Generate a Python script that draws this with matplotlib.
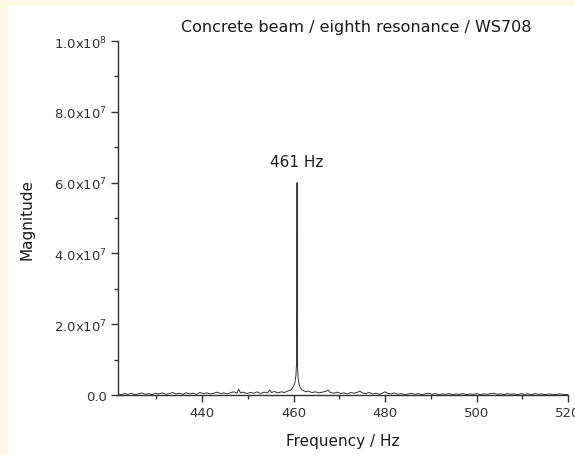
import numpy as np
import matplotlib.pyplot as plt
from matplotlib.ticker import FuncFormatter, MultipleLocator
from matplotlib.patches import Rectangle

# ---- data ----
freq = [421.6, 422.3, 423.0, 423.8, 424.5, 425.3, 426.0, 426.8, 427.5, 428.3,
        429.0, 429.8, 430.5, 431.3, 432.0, 432.8, 433.5, 434.3, 435.0, 435.8,
        436.5, 437.3, 438.0, 438.8, 439.5, 440.3, 441.0, 441.8, 442.5, 443.3,
        444.0, 444.8, 445.5, 446.3, 447.0, 447.6, 448.0, 448.4, 449.0, 449.8,
        450.5, 451.3, 452.0, 452.8, 453.5, 454.3, 454.8, 455.2, 455.8, 456.5,
        457.3, 458.0, 458.7, 459.2, 459.6, 460.0, 460.3, 460.5, 460.65, 460.72,
        460.75, 460.78, 460.85, 461.0, 461.2, 461.5, 461.8, 462.2, 462.7, 463.2,
        464.0, 464.8, 465.5, 466.3, 467.0, 467.5, 468.0, 468.8, 469.5, 470.3,
        471.0, 471.8, 472.5, 473.3, 474.0, 474.5, 475.0, 475.8, 476.5, 477.3,
        478.0, 478.8, 479.5, 480.0, 480.5, 481.3, 482.0, 482.8, 483.5, 484.3,
        485.0, 485.8, 486.5, 487.3, 488.0, 488.8, 489.5, 490.3, 491.0, 491.8,
        492.5, 493.3, 494.0, 494.8, 495.5, 496.3, 497.0, 497.8, 498.5, 499.3,
        500.0, 500.8, 501.5, 502.3, 503.0, 503.8, 504.5, 505.3, 506.0, 506.8,
        507.5, 508.3, 509.0, 509.8, 510.5, 511.3, 512.0, 512.8, 513.5, 514.3,
        515.0, 515.8, 516.5, 517.3, 518.0, 518.8, 519.5, 520.0]
magnitude = [3e5, 1e5, 4e5, 2e5, 5e5, 1e5, 3e5, 6e5, 2e5, 4e5,
             1e5, 5e5, 3e5, 6e5, 2e5, 4e5, 7e5, 3e5, 5e5, 2e5,
             6e5, 3e5, 5e5, 2e5, 7e5, 4e5, 6e5, 3e5, 5e5, 8e5,
             4e5, 6e5, 3e5, 7e5, 9e5, 5e5, 1.6e6, 6e5, 8e5, 4e5,
             7e5, 5e5, 9e5, 4e5, 8e5, 6e5, 1.4e6, 7e5, 1.0e6, 6e5,
             9e5, 7e5, 1.1e6, 1.3e6, 1.7e6, 2.5e6, 3.6e6, 5.5e6, 9.0e6, 2.5e7,
             6.0e7, 2.2e7, 8.0e6, 4.5e6, 3.0e6, 2.0e6, 1.5e6, 1.2e6, 9e5, 1.1e6,
             7e5, 9e5, 6e5, 8e5, 1.0e6, 1.4e6, 7e5, 5e5, 8e5, 4e5,
             6e5, 3e5, 7e5, 5e5, 8e5, 1.1e6, 6e5, 4e5, 7e5, 3e5,
             5e5, 2e5, 6e5, 9e5, 5e5, 3e5, 6e5, 2e5, 4e5, 1e5,
             3e5, 5e5, 2e5, 4e5, 1e5, 3e5, 5e5, 2e5, 4e5, 1e5,
             3e5, 2e5, 4e5, 1e5, 3e5, 2e5, 4e5, 1e5, 3e5, 2e5,
             4e5, 1e5, 3e5, 2e5, 4e5, 5e5, 2e5, 3e5, 1e5, 4e5,
             2e5, 3e5, 1e5, 4e5, 2e5, 3e5, 1e5, 4e5, 2e5, 3e5,
             1e5, 3e5, 2e5, 1e5, 3e5, 2e5, 1e5, 2e5]

peak_freq = 460.75
peak_label = "461 Hz"
title = "Concrete beam / eighth resonance / WS708"
xlim = (421.6, 520)
ylim = (0, 1.0e8)
xticks = [440, 460, 480, 500, 520]
yticks = [0, 2e7, 4e7, 6e7, 8e7, 1e8]

plt.rcParams['font.family'] = ['DejaVu Sans']
plt.rcParams['mathtext.fontset'] = 'dejavusans'

fig = plt.figure(figsize=(5.75, 4.56), dpi=100)
fig.patch.set_facecolor('#fdf9e6')
# white page area inside the cream border
fig.patches.append(Rectangle((8 / 575, 0), 1, 1 - 7 / 456, transform=fig.transFigure,
                             facecolor='white', edgecolor='none', zorder=-10))

ax = fig.add_axes([118 / 575, 1 - 396 / 456, 450 / 575, 354 / 456])
ax.set_facecolor('white')
ax.plot(freq, magnitude, color='#333333', linewidth=0.7)

ax.set_xlim(*xlim)
ax.set_ylim(*ylim)
ax.set_xticks(xticks)
ax.set_yticks(yticks)
ax.xaxis.set_minor_locator(MultipleLocator(10))
ax.yaxis.set_minor_locator(MultipleLocator(1e7))


def sci(v, pos):
    if v == 0:
        return "0.0"
    e = int(np.floor(np.log10(v)))
    return "%.1fx10$^{\\mathregular{%d}}$" % (v / 10 ** e, e)


ax.yaxis.set_major_formatter(FuncFormatter(sci))

for s in ['top', 'right']:
    ax.spines[s].set_visible(False)
for s in ['left', 'bottom']:
    ax.spines[s].set_color('#333333')
    ax.spines[s].set_linewidth(1.0)
ax.tick_params(which='major', direction='out', length=5, width=1.0, color='#333333',
               labelsize=9.5, labelcolor='#333333')
ax.tick_params(which='minor', direction='out', length=3, width=1.0, color='#333333')
ax.tick_params(axis='x', pad=3)
ax.tick_params(axis='y', pad=3)

ax.set_xlabel("Frequency / Hz", fontsize=11, color='#1a1a1a', labelpad=10)
ax.set_ylabel("Magnitude", fontsize=11, color='#1a1a1a', labelpad=14)
ax.text(0.5 * (xlim[0] + xlim[1]) + 3, 1.04e8, title, ha='center', va='center',
        fontsize=11.5, color='#1a1a1a', clip_on=False)
ax.text(peak_freq, 6.6e7, peak_label, ha='center', va='center', fontsize=11,
        color='#1a1a1a')

fig.savefig("out.png", dpi=100, facecolor=fig.get_facecolor())
